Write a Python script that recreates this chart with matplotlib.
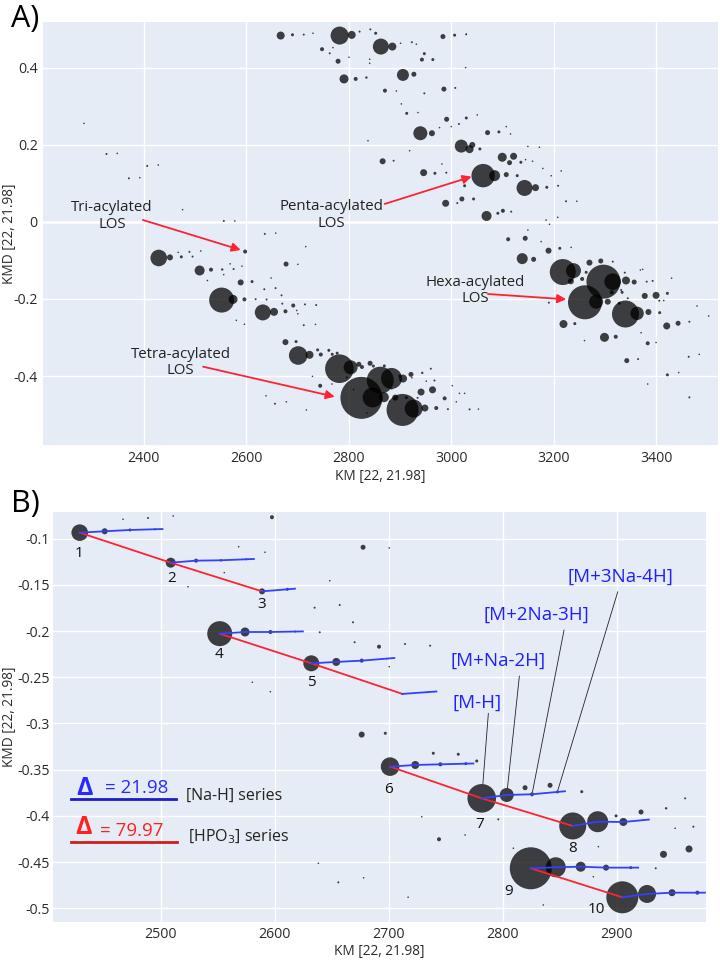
import matplotlib
matplotlib.use('Agg')
import matplotlib.pyplot as plt
import numpy as np

plt.rcParams['font.family'] = ['Open Sans', 'DejaVu Sans']

# ---------------- data ----------------
# [Na-H] series: first entry of each list is the [M-H] ion
ion_names = ['1', '2', '3', '4', '5', '', '6', '7', '8', '9', '10']
naH_km = [
    [2429.0, 2450.9, 2473.1, 2495.0],
    [2508.8, 2531.0, 2552.9, 2575.1],
    [2588.9, 2611.1],
    [2551.8, 2574.0, 2596.2, 2618.1],
    [2632.1, 2654.0, 2676.3, 2698.3],
    [2712.0, 2734.9],
    [2701.2, 2723.3, 2745.3, 2767.6],
    [2781.6, 2803.5, 2825.7, 2847.9],
    [2861.4, 2883.3, 2905.8, 2923.0],
    [2824.6, 2846.5, 2868.4, 2890.6, 2912.3],
    [2904.9, 2926.6, 2948.5, 2970.7],
]
naH_kmd = [
    [-0.0935, -0.0920, -0.0906, -0.0898],
    [-0.1260, -0.1238, -0.1234, -0.1223],
    [-0.1570, -0.1548],
    [-0.2028, -0.2010, -0.2010, -0.2005],
    [-0.2349, -0.2334, -0.2320, -0.2298],
    [-0.2680, -0.2660],
    [-0.3467, -0.3449, -0.3442, -0.3435],
    [-0.3810, -0.3774, -0.3766, -0.3741],
    [-0.4109, -0.4063, -0.4066, -0.4046],
    [-0.4567, -0.4556, -0.4550, -0.4560, -0.4560],
    [-0.4881, -0.4845, -0.4831, -0.4831],
]
naH_r = [
    [8.3, 3.0, 1.5, 1.0],
    [5.0, 2.0, 1.2, 1.0],
    [3.0, 1.5],
    [12.5, 4.5, 2.0, 1.0],
    [8.0, 4.0, 2.0, 0.8],
    [1.0, 0.8],
    [9.3, 4.0, 2.0, 1.5],
    [14.3, 7.0, 2.0, 1.5],
    [13.5, 10.5, 4.0, 0.8],
    [21.0, 10.0, 5.0, 3.0, 1.5],
    [16.0, 9.0, 3.5, 2.0],
]
# [HPO3] series: indices of ions (into the lists above)
hpo3_groups = [[0, 1, 2], [3, 4, 5], [6, 7, 8], [9, 10]]

# adduct labels pointing at members of ion "7"
adduct_labels = ['[M-H]', '[M+Na-2H]', '[M+2Na-3H]', '[M+3Na-4H]']

# other peaks: KM, KMD, relative marker radius
bg_km = [
    2597.6, 2488.9, 2467.0, 2511.0, 2677.5, 2700.5, 2691.5, 2670.1, 2714.3, 2736.3,
    2700.5, 2657.0, 2635.0, 2668.7, 2639.5, 2648.3, 2596.2, 2580.4, 2591.5, 2555.8,
    2568.4, 2524.0, 2676.3, 2697.0, 2739.1, 2761.0, 2777.2, 2819.6, 2841.5, 2744.1,
    2921.3, 2899.4, 2943.3, 2960.0, 2941.0, 2963.4, 2934.2, 2655.8, 2638.3, 2678.0,
    2717.0, 2835.6, 2809.3, 2796.1, 2729.0, 2767.0, 2879.5, 2869.3, 2967.2, 2951.2,
    2883.9,
    2667.0, 2690.0, 2712.0, 2730.0, 2782.0, 2805.6, 2821.0, 2842.0, 2852.4, 2862.5,
    2885.0, 2901.0, 2923.0, 2931.8, 2747.7, 2762.7, 2779.0, 2800.4, 2769.0, 2840.7,
    2840.7, 2947.4, 2942.7, 2964.0, 2983.7, 3006.5, 3029.0, 2790.6, 2813.4, 2834.3,
    2905.6, 2927.0, 2870.5, 2892.8, 2947.4, 2985.6, 3007.8, 3028.0, 2902.5, 2913.0,
    2935.0, 2939.6, 2962.2, 2990.9, 3014.9, 3029.3, 3000.0, 2977.0, 3050.7, 3019.5,
    3035.7, 3041.0, 3055.8, 3070.8, 3092.9, 3107.3, 3115.6, 3099.5, 3121.6, 3113.7,
    3135.8, 3145.0, 3158.6, 3149.5, 3172.0, 2866.0, 2887.5, 2837.4, 2918.7, 2981.7,
    2946.0, 2968.0, 2990.3, 3062.2, 3084.5, 3107.3, 3128.7, 3143.0, 3164.4, 3186.4,
    3208.6, 3178.7, 3195.0, 3214.5, 3026.0, 2989.0, 3011.7, 3020.7, 3043.5, 3068.8,
    3090.9, 3100.7, 3117.0, 3224.0, 3245.0, 3185.0, 3207.8, 3191.7, 3029.3,
    2283.0, 2327.0, 2348.0, 2370.7, 2392.0, 2406.5, 2428.0, 2475.5, 2556.0, 2577.5,
    2636.0, 2657.4, 2715.9,
    3111.0, 3144.3, 3149.5, 3175.5, 3138.5, 3160.7, 3189.8, 3211.8, 3233.9, 3217.6,
    3238.5, 3233.3, 3263.3, 3269.7, 3291.8, 3315.2, 3255.4, 3297.0, 3315.0, 3341.0,
    3357.0, 3261.0, 3282.7, 3305.4, 3313.2, 3333.4, 3328.0, 3340.0, 3362.7, 3384.8,
    3377.6, 3399.7, 3421.8, 3406.8, 3219.0, 3241.1, 3299.0, 3321.0, 3420.5, 3442.7,
    3464.7, 3383.4, 3342.5, 3364.6, 3463.4, 3421.8, 3443.9, 3383.4, 3464.7, 3373.6,
    3381.4, 3393.0, 3430.0, 3406.0, 3414.7, 3399.7, 3370.5, 3479.7, 3502.4, 3484.0,
    3260.0, 3190.4, 3344.5, 3331.5, 3369.0, 3338.6,
    2987.0, 2993.4, 3009.8, 3016.0, 3026.0, 3035.7, 3053.0, 3002.0,
]
bg_kmd = [
    -0.0768, -0.0776, -0.0790, -0.0754, -0.1093, -0.1100, -0.2169, -0.2121, -0.2140, -0.2158,
    -0.2385, -0.1718, -0.1747, -0.1905, -0.2013, -0.1455, -0.2656, -0.2554, -0.1147, -0.1368,
    -0.1087, -0.1520, -0.3120, -0.3106, -0.3322, -0.3333, -0.3406, -0.3695, -0.3669, -0.4253,
    -0.3958, -0.4000, -0.3918, -0.3810, -0.4416, -0.4358, -0.4567, -0.4719, -0.4513, -0.4670,
    -0.4880, -0.4964, -0.4350, -0.4037, -0.4009, -0.4207, -0.4658, -0.3738, -0.4117, -0.4134,
    -0.4333,
    0.4840, 0.4860, 0.4865, 0.4900, 0.4840, 0.4857, 0.4943, 0.5000, 0.4900, 0.4554,
    0.4554, 0.4640, 0.4667, 0.4615, 0.4486, 0.4380, 0.4174, 0.4277, 0.4527, 0.4120,
    0.4226, 0.4370, 0.4216, 0.4216, 0.4814, 0.4850, 0.4866, 0.3714, 0.3714, 0.3750,
    0.3818, 0.3836, 0.3410, 0.3400, 0.3340, 0.3450, 0.3480, 0.4008, 0.3065, 0.2820,
    0.2840, 0.2304, 0.2304, 0.2667, 0.2545, 0.2700, 0.2476, 0.2450, 0.2780, 0.1970,
    0.1890, 0.2000, 0.1896, 0.2320, 0.2338, 0.2476, 0.2286, 0.1680, 0.1706, 0.1540,
    0.1550, 0.1618, 0.1576, 0.1960, 0.1940, 0.1576, 0.1590, 0.2110, 0.1850, 0.1506,
    0.1280, 0.1264, 0.1280, 0.1203, 0.1203, 0.1230, 0.1203, 0.0883, 0.0891, 0.0900,
    0.0940, 0.1390, 0.1200, 0.1325, 0.0940, 0.0485, 0.0490, 0.0597, 0.0597, 0.0156,
    0.0226, 0.0290, 0.0268, 0.0538, 0.0538, 0.0050, 0.0121, -0.0060, 0.4880,
    0.2560, 0.1766, 0.1780, 0.1134, 0.1150, 0.1455, 0.1480, 0.0320, 0.0026, 0.0026,
    -0.0310, -0.0290, -0.0640,
    -0.0449, -0.0424, -0.0210, -0.0510, -0.0952, -0.0970, -0.0745, -0.0684, -0.0660, -0.1300,
    -0.1264, -0.1540, -0.1307, -0.1056, -0.1013, -0.1030, -0.1480, -0.1550, -0.1550, -0.1520,
    -0.1560, -0.2086, -0.2070, -0.2070, -0.1827, -0.1827, -0.2110, -0.2390, -0.2372, -0.2338,
    -0.1920, -0.1905, -0.1853, -0.2355, -0.2650, -0.2640, -0.2996, -0.2980, -0.2700, -0.2630,
    -0.2590, -0.3150, -0.3600, -0.3560, -0.3500, -0.3970, -0.3910, -0.4208, -0.4554, -0.1230,
    -0.1550, -0.1530, -0.1460, -0.2044, -0.2040, -0.3130, -0.2875, -0.2180, -0.2440, -0.3437,
    -0.3080, -0.2095, -0.1980, -0.1766, -0.1247, -0.1316,
    -0.4580, -0.4860, -0.4670, -0.4450, -0.4450, -0.4866, -0.4860, -0.4250,
]
bg_r = [
    2.0, 1.0, 0.8, 0.7, 2.5, 0.8, 2.0, 1.0, 1.0, 1.0,
    0.7, 1.0, 1.0, 1.0, 1.0, 0.8, 0.8, 0.8, 0.8, 0.8,
    0.8, 0.7, 3.0, 1.5, 1.5, 1.5, 1.5, 2.5, 2.5, 2.0,
    2.5, 1.5, 1.2, 1.0, 3.5, 3.5, 1.0, 1.0, 0.8, 0.7,
    0.7, 0.8, 0.7, 1.0, 0.7, 0.7, 0.8, 1.5, 1.0, 0.8,
    0.7,
    4.0, 1.5, 1.0, 0.7, 9.0, 4.0, 1.0, 1.0, 1.5, 8.0,
    4.0, 0.8, 1.0, 0.7, 2.0, 1.0, 2.5, 0.7, 0.7, 0.8,
    0.7, 1.5, 2.0, 1.5, 2.5, 1.5, 0.7, 4.5, 2.0, 1.2,
    6.0, 2.5, 2.0, 0.8, 1.0, 2.5, 1.0, 0.7, 0.7, 1.5,
    0.7, 7.0, 3.0, 2.5, 1.0, 1.5, 0.7, 0.7, 0.8, 6.5,
    4.0, 3.0, 1.5, 2.5, 1.5, 0.7, 0.7, 4.5, 3.5, 2.5,
    1.5, 0.7, 0.7, 0.7, 0.7, 3.0, 1.0, 0.7, 0.7, 0.7,
    3.5, 1.5, 1.0, 11.7, 5.5, 2.5, 1.5, 8.0, 3.5, 1.5,
    1.0, 0.7, 0.7, 0.7, 1.5, 3.5, 1.0, 2.5, 1.5, 5.0,
    1.5, 2.0, 1.0, 1.0, 0.7, 0.7, 0.7, 0.7, 0.7,
    0.7, 1.0, 0.7, 1.0, 0.7, 1.0, 0.7, 0.8, 1.0, 0.7,
    1.0, 0.7, 0.7,
    2.0, 2.5, 0.7, 0.7, 5.5, 2.5, 3.0, 1.5, 0.7, 13.0,
    7.5, 3.0, 1.5, 3.0, 2.5, 1.0, 2.0, 17.0, 8.3, 4.0,
    2.5, 17.0, 7.0, 3.0, 2.0, 1.5, 1.5, 13.5, 6.7, 3.0,
    3.0, 3.5, 1.5, 1.5, 4.0, 1.5, 4.5, 2.0, 3.5, 2.5,
    1.0, 2.0, 2.5, 1.0, 1.0, 1.5, 0.7, 0.7, 1.0, 0.7,
    1.0, 1.0, 0.7, 1.0, 0.7, 0.7, 0.7, 0.7, 0.7, 0.7,
    0.7, 1.0, 1.0, 1.0, 0.7, 1.0,
    2.0, 1.0, 0.8, 0.8, 0.7, 1.0, 0.7, 0.7,
]

# ---------------- styling ----------------
BG = '#E5ECF6'
TXT = '#2a2a2a'
BLUE_LINE = '#3340ff'
RED_LINE = '#ff2233'
BLUE_TXT = '#1f1fff'

all_km = np.concatenate([np.concatenate([np.array(k) for k in naH_km]), np.array(bg_km)])
all_kmd = np.concatenate([np.concatenate([np.array(k) for k in naH_kmd]), np.array(bg_kmd)])
all_r = np.concatenate([np.concatenate([np.array(k) for k in naH_r]), np.array(bg_r)])
order = np.argsort(-all_r)
sizes = (1.44 * np.maximum(all_r, 0.8)) ** 2

fig = plt.figure(figsize=(7.2, 9.6), dpi=100)
axA = fig.add_axes([0.0601, 0.5365, 0.9367, 0.4409])
axB = fig.add_axes([0.0740, 0.0399, 0.9061, 0.4271])


def style(ax, xt, yt, xl, yl, ypad):
    ax.set_facecolor(BG)
    for s in ax.spines.values():
        s.set_visible(False)
    ax.set_xlim(xl)
    ax.set_ylim(yl)
    ax.set_xticks(xt)
    ax.set_yticks(yt)
    ax.set_xticklabels([f'{v:g}' for v in xt])
    ax.set_yticklabels([f'{v:g}' for v in yt])
    ax.tick_params(length=0, labelsize=10.2, colors=TXT)
    ax.tick_params(axis='x', pad=4)
    ax.tick_params(axis='y', pad=ypad)
    ax.grid(True, color='white', lw=1.0)
    ax.set_axisbelow(True)


style(axA, [2400, 2600, 2800, 3000, 3200, 3400], [-0.4, -0.2, 0, 0.2, 0.4],
      (2203.6, 3520), (-0.579, 0.520), 4)
axA.axhline(0, color='white', lw=1.8, zorder=0.5)
style(axB, [2500, 2600, 2700, 2800, 2900],
      [-0.5, -0.45, -0.4, -0.35, -0.3, -0.25, -0.2, -0.15, -0.1],
      (2405.8, 2978), (-0.5145, -0.0708), 2.4)

for ax in (axA, axB):
    ax.scatter(all_km[order], all_kmd[order], s=sizes[order], c='black',
               alpha=0.74, linewidths=0, zorder=2)
    ax.set_xlabel('KM [22, 21.98]', fontsize=9.8, color=TXT)
    ax.set_ylabel('KMD [22, 21.98]', fontsize=9.8, color=TXT)
    ax.xaxis.label.set_va('center')
    ax.yaxis.label.set_va('center')

axA.xaxis.set_label_coords(0.5, -0.0749)
axA.yaxis.set_label_coords(-0.0494, 0.5)
axB.xaxis.set_label_coords(0.5, -0.0732)
axB.yaxis.set_label_coords(-0.0664, 0.5)

fig.text(11 / 720, 1 - 19 / 960, 'A)', fontsize=22, va='center', ha='left', color='black')
fig.text(11 / 720, 1 - 504 / 960, 'B)', fontsize=22, va='center', ha='left', color='black')

# ---------- panel A annotations ----------
arrow_kw = dict(arrowstyle='-|>', color=RED_LINE, lw=1.3, mutation_scale=13,
                shrinkA=0, shrinkB=0)
a_notes = [
    ('Tri-acylated\nLOS', (2337.6, 0.0156), (2398, 0.0052), (2589, -0.0727)),
    ('Tetra-acylated\nLOS', (2472, -0.366), (2515.6, -0.3758), (2772.5, -0.4538)),
    ('Penta-acylated\nLOS', (2766.6, 0.018), (2870, 0.0468), (3039.6, 0.1177)),
    ('Hexa-acylated\nLOS', (3047.4, -0.179), (3071.4, -0.187), (3224.3, -0.2008)),
]
for txt, tpos, tail, head in a_notes:
    axA.text(tpos[0], tpos[1], txt, ha='center', va='center', fontsize=10.8,
             color='#222222', linespacing=1.1, zorder=5)
    axA.annotate('', xy=head, xytext=tail, arrowprops=arrow_kw, zorder=5)

# ---------- panel B lines ----------
for grp in hpo3_groups:
    xs = [naH_km[i][0] for i in grp]
    ys = [naH_kmd[i][0] for i in grp]
    axB.plot(xs, ys, color=RED_LINE, lw=1.3, zorder=3)
for k, y in zip(naH_km, naH_kmd):
    k = np.array(k); y = np.array(y)
    ext = 0.3
    xe = k[-1] + ext * (k[-1] - k[-2])
    ye = y[-1] + ext * (y[-1] - y[-2])
    axB.plot(list(k) + [xe], list(y) + [ye], color=BLUE_LINE, lw=1.3, zorder=4,
             clip_on=False)

# ion numbers
num_offsets = [(-0.7, -14.8), (0.4, -11.2), (-0.5, -9.4), (-0.7, -14.8), (0, -13.7), None,
               (-1.2, -16.3), (-1.7, -18.5), (0, -16.1), (-16.1, -16.8), (-18.9, -9.1)]
for name, k, y, off in zip(ion_names, naH_km, naH_kmd, num_offsets):
    if not name:
        continue
    axB.annotate(name, (k[0], y[0]), xytext=off, textcoords='offset points',
                 ha='center', va='center', fontsize=11, color='#111111', zorder=6)

# adduct labels for ion 7
ion7 = 7
lab_pos = [(2777.6, -0.2778), (2796.2, -0.232), (2829.8, -0.1826), (2903.0, -0.1411)]
line_start = [(2787.4, -0.289), (2814.6, -0.2486), (2853.8, -0.1988), (2900.9, -0.1574)]
for j, (lab, lp, ls) in enumerate(zip(adduct_labels, lab_pos, line_start)):
    axB.text(lp[0], lp[1], lab, ha='center', va='center', fontsize=13.5,
             color=BLUE_TXT, zorder=6)
    tgt = (naH_km[ion7][j], naH_kmd[ion7][j])
    axB.annotate('', xy=tgt, xytext=ls,
                 arrowprops=dict(arrowstyle='-', color='#222222', lw=0.6,
                                 shrinkA=0, shrinkB=naH_r[ion7][j] * 0.72),
                 zorder=6)

# legend-like key
tr = axB.transAxes
axB.text(0.0486, 0.325, 'Δ', transform=tr, ha='center', va='center', fontsize=18,
         fontweight='bold', color='#2a2aff', zorder=7)
axB.text(0.0792, 0.3254, '= 21.98', transform=tr, ha='left', va='center', fontsize=13.5,
         color='#2a2aff', zorder=7)
axB.plot([0.0267, 0.188], [0.2985, 0.2985], transform=tr, color='#1c1cc8', lw=2.0, zorder=7)
axB.text(0.203, 0.307, '[Na-H] series', transform=tr, ha='left', va='center', fontsize=11.5,
         color='#222222', zorder=7)
axB.text(0.047, 0.229, 'Δ', transform=tr, ha='center', va='center', fontsize=18,
         fontweight='bold', color='#ff2020', zorder=7)
axB.text(0.0716, 0.222, '= 79.97', transform=tr, ha='left', va='center', fontsize=13.5,
         color='#ff2020', zorder=7)
axB.plot([0.0267, 0.189], [0.195, 0.195], transform=tr, color='#d01c1c', lw=2.0, zorder=7)
axB.text(0.206, 0.207, '[HPO$_3$] series', transform=tr, ha='left', va='center', fontsize=11.5,
         color='#222222', zorder=7)

fig.savefig('out.png', dpi=100, facecolor='white')
